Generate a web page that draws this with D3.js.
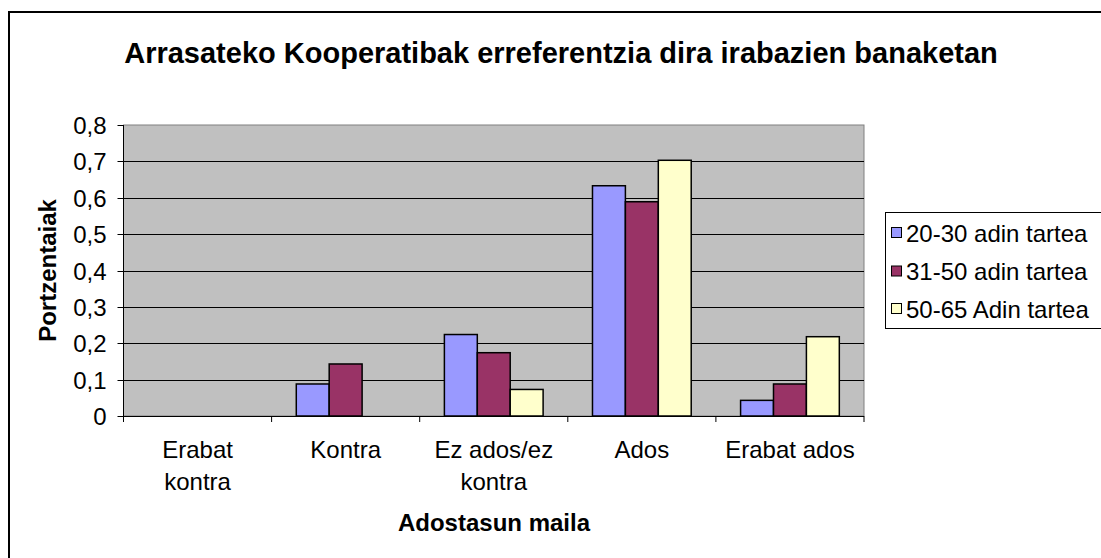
<!DOCTYPE html>
<html>
<head>
<meta charset="utf-8">
<script src="https://cdn.jsdelivr.net/npm/d3@7"></script>
<style>
  body { margin: 0; background: #fff; }
  svg { display: block; font-family: "Liberation Sans", Arial, sans-serif; }
</style>
</head>
<body>
<svg id="chart"></svg>
<script>
const categories = [["Erabat", "kontra"], ["Kontra"], ["Ez ados/ez", "kontra"], ["Ados"], ["Erabat ados"]];
const seriesNames = ["20-30 adin tartea", "31-50 adin tartea", "50-65 Adin tartea"];
const seriesColors = ["#9999ff", "#993366", "#ffffcc"];
const s2030 = [0, 0.088, 0.224, 0.633, 0.043];
const s3150 = [0, 0.143, 0.174, 0.589, 0.088];
const s5065 = [0, 0, 0.073, 0.703, 0.218];
const yTicks = [0, 0.1, 0.2, 0.3, 0.4, 0.5, 0.6, 0.7, 0.8];

const width = 1101, height = 558;
const svg = d3.select("#chart").attr("width", width).attr("height", height);

// marco exterior
svg.append("rect")
    .attr("x", 9).attr("y", 12)
    .attr("width", width + 20).attr("height", height + 20)
    .attr("fill", "#fff").attr("stroke", "#000").attr("stroke-width", 2);

const pLeft = 123.5, pRight = 864, pTop = 125, pBottom = 416;

const x = d3.scaleBand().domain(d3.range(categories.length)).range([pLeft, pRight]);
const y = d3.scaleLinear().domain([0, 0.8]).range([pBottom, pTop]);

// fondo del área
svg.append("rect")
    .attr("x", pLeft).attr("y", pTop)
    .attr("width", pRight - pLeft).attr("height", pBottom - pTop)
    .attr("fill", "#c0c0c0").attr("stroke", "#808080").attr("stroke-width", 1);

// cuadrícula
svg.append("g")
    .selectAll("line")
    .data(yTicks.slice(1, -1))
    .enter()
    .append("line")
    .attr("x1", pLeft).attr("x2", pRight)
    .attr("y1", d => Math.round(y(d)) + 0.5).attr("y2", d => Math.round(y(d)) + 0.5)
    .attr("stroke", "#000").attr("stroke-width", 1);

// barras
const data = [s2030, s3150, s5065];
const barW = x.bandwidth() / 4.5;
const offset = (x.bandwidth() - 3 * barW) / 2;
data.forEach((vals, si) => {
    svg.append("g")
        .selectAll("rect")
        .data(vals.map((v, i) => ({ v, i })).filter(d => d.v > 0))
        .enter()
        .append("rect")
        .attr("x", d => x(d.i) + offset + si * barW)
        .attr("y", d => y(d.v))
        .attr("width", barW)
        .attr("height", d => pBottom - y(d.v))
        .attr("fill", seriesColors[si])
        .attr("stroke", "#000").attr("stroke-width", 1.5);
});

// eje Y
const yAxis = svg.append("g").attr("transform", `translate(${pLeft},0)`);
yAxis.append("line").attr("x1", 0).attr("x2", 0).attr("y1", pTop).attr("y2", pBottom)
    .attr("stroke", "#000");
yAxis.selectAll("g.tick")
    .data(yTicks)
    .enter()
    .append("g")
    .attr("transform", d => `translate(0,${Math.round(y(d)) + 0.5})`)
    .each(function (d) {
        const g = d3.select(this);
        g.append("line").attr("x1", -6).attr("x2", 0).attr("stroke", "#000");
        g.append("text")
            .attr("x", -17).attr("dy", "0.36em")
            .attr("text-anchor", "end")
            .attr("font-size", 24)
            .text(d === 0 ? "0" : d3.format(".1f")(d).replace(".", ","));
    });

// eje X
const xAxis = svg.append("g");
xAxis.append("line").attr("x1", pLeft).attr("x2", pRight)
    .attr("y1", pBottom + 0.5).attr("y2", pBottom + 0.5).attr("stroke", "#000");
xAxis.selectAll("line.tick")
    .data(d3.range(categories.length + 1))
    .enter()
    .append("line")
    .attr("x1", i => pLeft + i * x.step()).attr("x2", i => pLeft + i * x.step())
    .attr("y1", pBottom).attr("y2", pBottom + 6)
    .attr("stroke", "#000");
xAxis.selectAll("text")
    .data(categories)
    .enter()
    .append("text")
    .attr("text-anchor", "middle")
    .attr("font-size", 24)
    .attr("transform", (d, i) => `translate(${x(i) + x.bandwidth() / 2},458)`)
    .selectAll("tspan")
    .data(d => d)
    .enter()
    .append("tspan")
    .attr("x", 0)
    .attr("y", (d, i) => i * 31.5)
    .text(d => d);

// títulos
svg.append("text")
    .attr("x", 561).attr("y", 63)
    .attr("text-anchor", "middle")
    .attr("font-size", 29).attr("font-weight", "bold")
    .text("Arrasateko Kooperatibak erreferentzia dira irabazien banaketan");

svg.append("text")
    .attr("x", 494).attr("y", 531)
    .attr("text-anchor", "middle")
    .attr("font-size", 24).attr("font-weight", "bold")
    .text("Adostasun maila");

svg.append("text")
    .attr("transform", `translate(56,${(pTop + pBottom) / 2}) rotate(-90)`)
    .attr("text-anchor", "middle")
    .attr("font-size", 24).attr("font-weight", "bold")
    .text("Portzentaiak");

// leyenda
const legend = svg.append("g");
legend.append("rect")
    .attr("x", 885.5).attr("y", 212.5)
    .attr("width", 240).attr("height", 116)
    .attr("fill", "#fff").attr("stroke", "#000").attr("stroke-width", 1);
const rowY = [233, 271.5, 309];
seriesNames.forEach((name, i) => {
    legend.append("rect")
        .attr("x", 891.5).attr("y", rowY[i] - 5.5)
        .attr("width", 10).attr("height", 10)
        .attr("fill", seriesColors[i]).attr("stroke", "#000").attr("stroke-width", 1);
    legend.append("text")
        .attr("x", 906).attr("y", rowY[i]).attr("dy", "0.36em")
        .attr("font-size", 24)
        .text(name);
});
</script>
</body>
</html>
